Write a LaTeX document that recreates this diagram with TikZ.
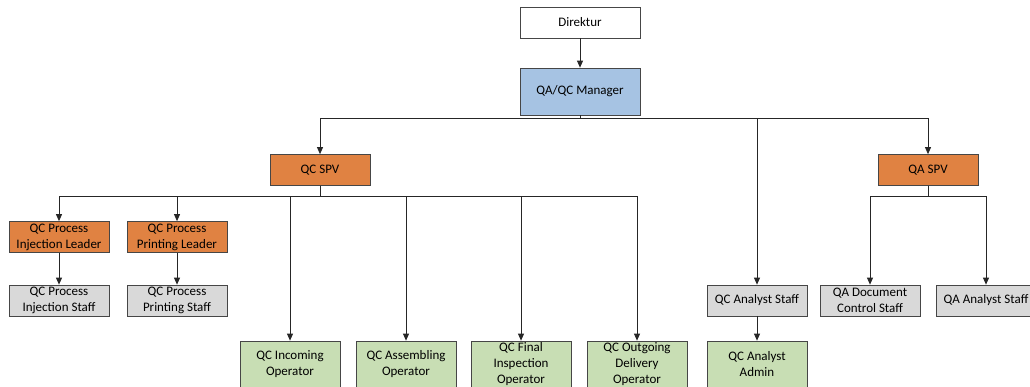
\documentclass[tikz,border=0pt]{standalone}
\usepackage{fontspec}
\setmainfont{Carlito}
\usetikzlibrary{arrows.meta, calc}
\definecolor{box-blue}{RGB}{166,195,227}
\definecolor{box-orange}{RGB}{224,130,66}
\definecolor{box-gray}{RGB}{217,217,217}
\definecolor{box-green}{RGB}{200,222,180}
\definecolor{box-line}{RGB}{70,70,70}
\tikzset{
    my-box/.style={
        draw=box-line, line width=0.7pt, minimum width=100pt, minimum height=31pt,
        inner sep=1pt, align=center, font=\fontsize{13}{16}\selectfont
    },
    my-wire/.style={
        draw=black!85, line width=0.75pt
    },
    my-arrow/.style={
        my-wire, -{Triangle[length=7pt, width=6pt]}
    },
}
\begin{document}
\begin{tikzpicture}[x=1pt, y=-1pt]
        \useasboundingbox (0,0) rectangle (1030,387);

        % TOP
        \node[my-box, minimum width=120pt, fill=white]                    (DIR)   at (580,22.5)  {Direktur};
        \node[my-box, minimum width=120pt, minimum height=47pt, fill=box-blue] (MGR) at (580,91.5) {QA/QC Manager};

        % SUPERVISORS
        \node[my-box, fill=box-orange] (QCSPV) at (320,170) {QC SPV};
        \node[my-box, fill=box-orange] (QASPV) at (928,170) {QA SPV};

        % LEADERS
        \node[my-box, fill=box-orange] (INJL)  at (59,237)  {QC Process\\Injection Leader};
        \node[my-box, fill=box-orange] (PRNL)  at (177,237) {QC Process\\Printing Leader};

        % STAFF
        \node[my-box, fill=box-gray]   (INJS)  at (59,300.5)  {QC Process\\Injection Staff};
        \node[my-box, fill=box-gray]   (PRNS)  at (177,300.5) {QC Process\\Printing Staff};
        \node[my-box, fill=box-gray]   (QCAS)  at (757,300.5) {QC Analyst Staff};
        \node[my-box, fill=box-gray]   (QADC)  at (870,300.5) {QA Document\\Control Staff};
        \node[my-box, fill=box-gray]   (QAAS)  at (986,300.5) {QA Analyst Staff};

        % OPERATORS
        \node[my-box, minimum height=47pt, fill=box-green] (INCOP) at (290,364.5) {QC Incoming\\Operator};
        \node[my-box, minimum height=47pt, fill=box-green] (ASMOP) at (406,364.5) {QC Assembling\\Operator};
        \node[my-box, minimum height=47pt, fill=box-green] (FINOP) at (521,364.5) {QC Final\\Inspection\\Operator};
        \node[my-box, minimum height=47pt, fill=box-green] (OUTOP) at (637,364.5) {QC Outgoing\\Delivery\\Operator};
        \node[my-box, minimum height=47pt, fill=box-green] (QCAA)  at (757,364.5) {QC Analyst\\Admin};

        % MANAGER CONNECTIONS
        \draw[my-arrow] (DIR.south) -- (MGR.north);
        \draw[my-arrow] (MGR.south) -- ++(0,3) -| (QCSPV.north);
        \draw[my-arrow] (MGR.south) -- ++(0,3) -| (QASPV.north);
        \draw[my-arrow] (MGR.south) -- ++(0,3) -| (QCAS.north);

        % QC SPV CONNECTIONS
        \draw[my-arrow] (QCSPV.south) -- ++(0,11) -| (INJL.north);
        \draw[my-arrow] (QCSPV.south) -- ++(0,11) -| (PRNL.north);
        \draw[my-arrow] (QCSPV.south) -- ++(0,11) -| (INCOP.north);
        \draw[my-arrow] (QCSPV.south) -- ++(0,11) -| (ASMOP.north);
        \draw[my-arrow] (QCSPV.south) -- ++(0,11) -| (FINOP.north);
        \draw[my-arrow] (QCSPV.south) -- ++(0,11) -| (OUTOP.north);

        % QA SPV CONNECTIONS
        \draw[my-arrow] (QASPV.south) -- ++(0,11) -| (QADC.north);
        \draw[my-arrow] (QASPV.south) -- ++(0,11) -| (QAAS.north);

        % LEADER AND STAFF CONNECTIONS
        \draw[my-arrow] (INJL.south) -- (INJS.north);
        \draw[my-arrow] (PRNL.south) -- (PRNS.north);
        \draw[my-arrow] (QCAS.south) -- (QCAA.north);

    \end{tikzpicture}
\end{document}
